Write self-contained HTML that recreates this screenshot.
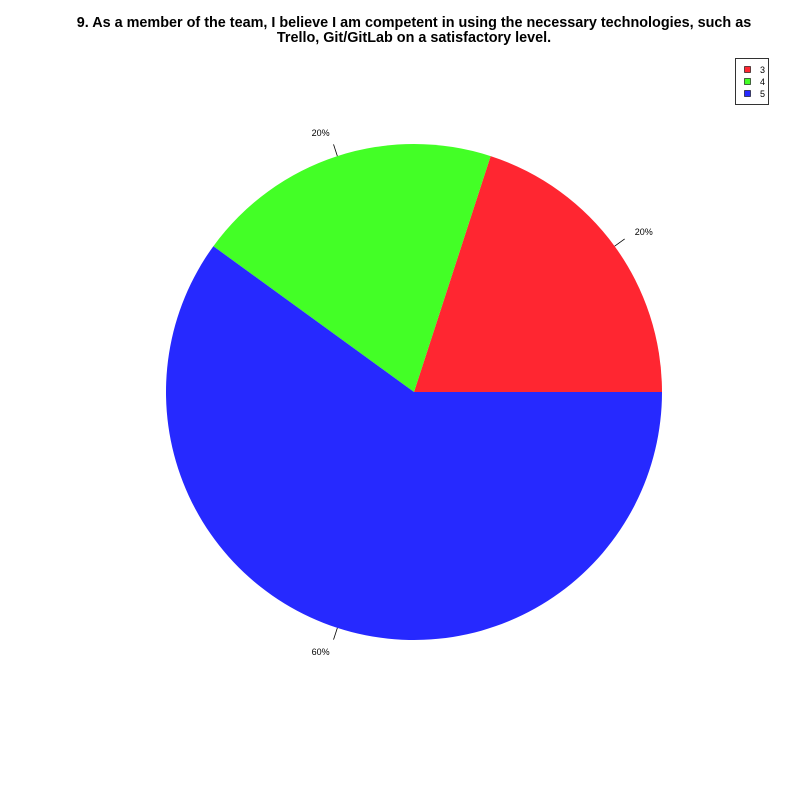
<!DOCTYPE html>
<html><head><meta charset="utf-8"><style>body{margin:0;background:#fff}svg{display:block}text{font-family:"Liberation Sans",sans-serif}</style></head>
<body>
<svg id="chart" width="800" height="800" xmlns="http://www.w3.org/2000/svg">
<rect width="800" height="800" fill="#fff"/>
<text x="414" y="27" text-anchor="middle" font-size="14.4" font-weight="bold">9. As a member of the team, I believe I am competent in using the necessary technologies, such as</text>
<text x="414" y="42" text-anchor="middle" font-size="14.4" font-weight="bold">Trello, Git/GitLab on a satisfactory level.</text>
<g id="slices"></g>
<g id="labels"></g>
<g>
<rect x="735.5" y="58.5" width="33" height="46" fill="#fff" stroke="#000" stroke-width="0.8"/>
<g id="legend"></g>
</g>
</svg>
<script>
const categories = ["3", "4", "5"];
const values = [20, 20, 60];
const colors = ["#ff2631", "#43ff26", "#2629ff"];
const labels = ["20%", "20%", "60%"];
const cx = 414, cy = 392, r = 248;
const ns = "http://www.w3.org/2000/svg";
const total = values.reduce((a,b)=>a+b,0);
const sg = document.getElementById('slices'), lg = document.getElementById('labels'), leg = document.getElementById('legend');
function pt(a, rr){ return [cx + rr*Math.cos(a), cy - rr*Math.sin(a)]; }
let acc = 0;
values.forEach((v,i)=>{
  const a0 = acc/total*2*Math.PI; acc += v; const a1 = acc/total*2*Math.PI;
  const p0 = pt(a0,r), p1 = pt(a1,r);
  const large = (a1-a0) > Math.PI ? 1 : 0;
  const path = document.createElementNS(ns,'path');
  path.setAttribute('d', `M${cx},${cy} L${p0[0]},${p0[1]} A${r},${r} 0 ${large} 0 ${p1[0]},${p1[1]} Z`);
  path.setAttribute('fill', colors[i]);
  
  
  sg.appendChild(path);
  const am = (a0+a1)/2;
  const t0 = pt(am, r), t1 = pt(am, r*1.05), tl = pt(am, r*1.1);
  const ln = document.createElementNS(ns,'line');
  ln.setAttribute('x1',t0[0]); ln.setAttribute('y1',t0[1]); ln.setAttribute('x2',t1[0]); ln.setAttribute('y2',t1[1]);
  ln.setAttribute('stroke','#000'); ln.setAttribute('stroke-width','0.8');
  
  
  lg.appendChild(ln);
  const tx = document.createElementNS(ns,'text');
  tx.setAttribute('x', tl[0]); tx.setAttribute('y', tl[1]+3.5);
  tx.setAttribute('font-size','9');
  tx.setAttribute('text-anchor', Math.cos(am)>=0 ? 'start' : 'end');
  tx.textContent = labels[i];
  
  
  lg.appendChild(tx);
  const sq = document.createElementNS(ns,'rect');
  sq.setAttribute('x',744.5); sq.setAttribute('y',66.5+i*12); sq.setAttribute('width',6); sq.setAttribute('height',6);
  sq.setAttribute('fill',colors[i]); sq.setAttribute('stroke','#000'); sq.setAttribute('stroke-width','0.6');
  
  
  leg.appendChild(sq);
  const lt = document.createElementNS(ns,'text');
  lt.setAttribute('x',760); lt.setAttribute('y',73+i*12); lt.setAttribute('font-size','9');
  lt.textContent = categories[i];
  
  
  leg.appendChild(lt);
});
</script>
</body></html>
